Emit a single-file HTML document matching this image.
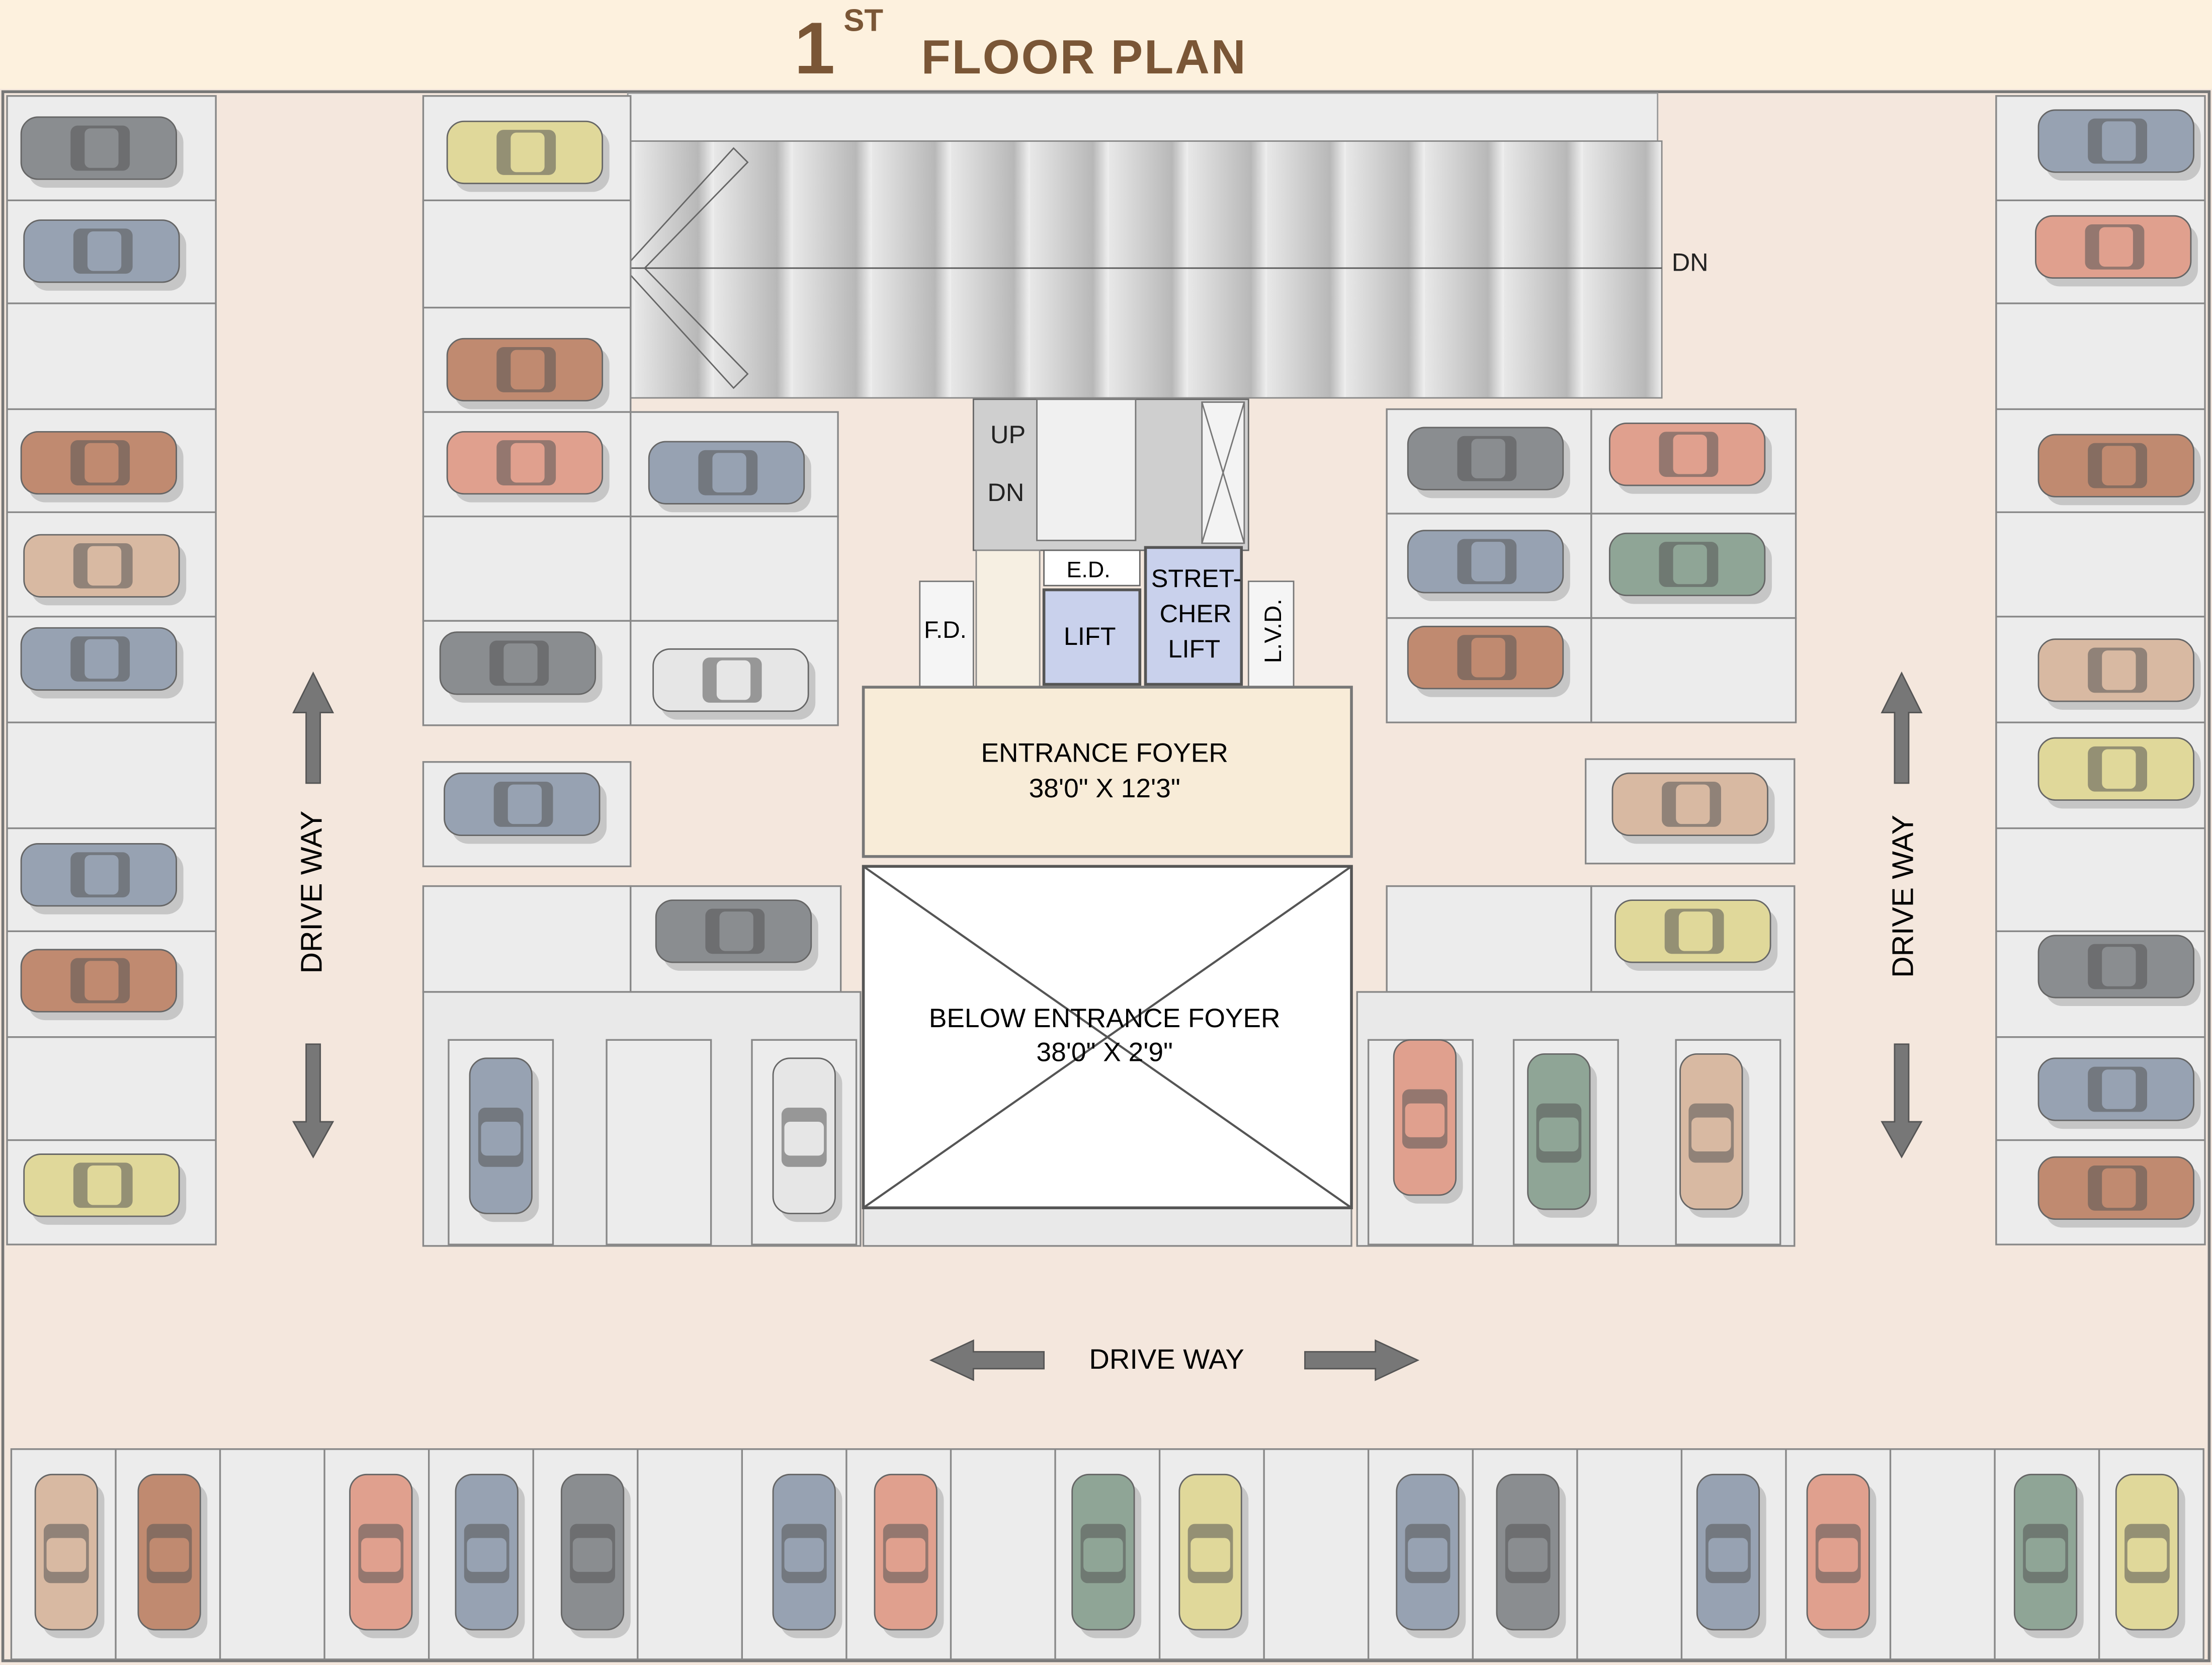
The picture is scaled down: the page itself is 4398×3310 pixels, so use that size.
<!DOCTYPE html>
<html><head><meta charset="utf-8">
<style>
html,body{margin:0;padding:0;background:#fff;}
svg{display:block;}
text{font-family:"Liberation Sans",sans-serif;}
</style></head>
<body>
<svg id="s" width="4398" height="3310" viewBox="0 0 1568 1180" preserveAspectRatio="none" xmlns="http://www.w3.org/2000/svg">
<defs>
<linearGradient id="st" x1="0" y1="0" x2="1" y2="0">
<stop offset="0" stop-color="#e8e8e8"/><stop offset="0.8" stop-color="#b8b8b8"/><stop offset="1" stop-color="#f0f0f0"/>
</linearGradient>
<pattern id="stp" width="56" height="10" patternUnits="userSpaceOnUse" x="450">
<rect width="56" height="10" fill="url(#st)"/>
</pattern>
</defs>
<rect x="0" y="0" width="1568" height="1180" fill="#f4e7dd"/>
<rect x="0" y="0" width="1568" height="63" fill="#fdf1de"/>
<text x="563" y="52" font-size="52" fill="#7a5636" font-weight="bold">1</text>
<text x="598" y="22" font-size="22" fill="#7a5636" font-weight="bold">ST</text>
<text x="653" y="52" font-size="34" fill="#7a5636" font-weight="bold" letter-spacing="1">FLOOR PLAN</text>
<rect x="2" y="65" width="1564" height="1112" fill="none" stroke="#777" stroke-width="2"/>

<!-- staircase -->
<rect x="445" y="66" width="730" height="34" fill="#ececec" stroke="#999"/>
<rect x="447" y="100" width="731" height="182" fill="url(#stp)" stroke="#888"/>
<line x1="447" y1="190" x2="1178" y2="190" stroke="#555"/>
<text x="1185" y="192" font-size="18" fill="#222">DN</text>
<path d="M447 185 L520 105 L530 115 L457 190 M447 195 L520 275 L530 265 L457 190" fill="none" stroke="#666"/>

<g id="cells" fill="#ececec" stroke="#888" stroke-width="1.2"></g>

<!-- core -->
<rect x="690" y="283" width="195" height="107" fill="#cfcfcf" stroke="#666"/>
<rect x="735" y="283" width="70" height="100" fill="#f0f0f0" stroke="#777"/>
<rect x="852" y="285" width="30" height="100" fill="#f3f3f3" stroke="#777"/>
<path d="M852 285 L882 385 M882 285 L852 385" stroke="#777"/>
<text x="702" y="314" font-size="18" fill="#222">UP</text>
<text x="700" y="355" font-size="18" fill="#222">DN</text>
<rect x="692" y="390" width="45" height="97" fill="#f6efe2" stroke="#888"/>
<rect x="740" y="390" width="68" height="25" fill="#fff" stroke="#666"/>
<text x="756" y="409" font-size="16">E.D.</text>
<rect x="740" y="418" width="68" height="67" fill="#c9d1ec" stroke="#555" stroke-width="2"/>
<text x="754" y="457" font-size="18">LIFT</text>
<rect x="812" y="388" width="68" height="97" fill="#c9d1ec" stroke="#555" stroke-width="2"/>
<text x="816" y="416" font-size="18">STRET-</text>
<text x="822" y="441" font-size="18">CHER</text>
<text x="828" y="466" font-size="18">LIFT</text>
<rect x="652" y="412" width="38" height="75" fill="#f5f5f5" stroke="#777"/>
<text x="655" y="452" font-size="17">F.D.</text>
<rect x="885" y="412" width="32" height="75" fill="#f5f5f5" stroke="#777"/>
<text x="908" y="470" font-size="17" transform="rotate(-90 908 470)">L.V.D.</text>

<rect x="612" y="487" width="346" height="120" fill="#f8ecd8" stroke="#777" stroke-width="2"/>
<text x="783" y="540" font-size="19" text-anchor="middle">ENTRANCE FOYER</text>
<text x="783" y="565" font-size="19" text-anchor="middle">38'0" X 12'3"</text>
<rect x="612" y="614" width="346" height="242" fill="#fff" stroke="#555" stroke-width="2"/>
<path d="M612 614 L958 856 M958 614 L612 856" stroke="#555" stroke-width="1.5"/>
<text x="783" y="728" font-size="19" text-anchor="middle">BELOW ENTRANCE FOYER</text>
<text x="783" y="752" font-size="19" text-anchor="middle">38'0" X 2'9"</text>

<!-- drive labels & arrows -->
<text x="228" y="690" font-size="21" transform="rotate(-90 228 690)">DRIVE WAY</text>
<text x="1356" y="693" font-size="21" transform="rotate(-90 1356 693)">DRIVE WAY</text>
<text x="772" y="970" font-size="20">DRIVE WAY</text>
<g fill="#777" stroke="#555">
<path d="M217 555 V505 H208 L222 477 L236 505 H227 V555Z"/>
<path d="M217 740 V795 H208 L222 820 L236 795 H227 V740Z"/>
<path d="M1343 555 V505 H1334 L1348 477 L1362 505 H1353 V555Z"/>
<path d="M1343 740 V795 H1334 L1348 820 L1362 795 H1353 V740Z"/>
<path d="M740 958 H690 V950 L660 964 L690 978 V970 H740Z"/>
<path d="M925 958 H975 V950 L1005 964 L975 978 V970 H925Z"/>
</g>
<g id="cars"></g>
</svg>
<script>
var NS="http://www.w3.org/2000/svg";
function el(p,t,a){var e=document.createElementNS(NS,t);for(var k in a)e.setAttribute(k,a[k]);p.appendChild(e);return e;}
var C=document.getElementById("cells");
function r(x,y,w,h,f){el(C,"rect",{x:x,y:y,width:w,height:h,fill:f||"#ececec"});}
// left column
r(5,68,148,814);
[142,215,290,363,437,512,587,660,735,808].forEach(function(y){el(C,"line",{x1:5,y1:y,x2:153,y2:y});});
// right column
r(1415,68,148,814);
[142,215,290,363,437,512,587,660,735,808].forEach(function(y){el(C,"line",{x1:1415,y1:y,x2:1563,y2:y});});
// inner left
r(300,68,147,224);r(300,142,147,76);
[[300,292],[300,366],[300,440],[447,292],[447,366],[447,440]].forEach(function(a){r(a[0],a[1],147,74);});
r(300,540,147,74);r(300,628,147,75);r(447,628,149,75);
r(300,703,310,180,"#e9e9e9");
[[318,737],[430,737],[533,737]].forEach(function(a){r(a[0],a[1],74,145);});
// right block
[[983,290],[1128,290],[983,364],[1128,364],[983,438],[1128,438]].forEach(function(a){r(a[0],a[1],145,74);});
r(1124,538,148,74);r(983,628,145,75);r(1128,628,144,75);
r(962,703,310,180,"#e9e9e9");
[[970,737],[1073,737],[1188,737]].forEach(function(a){r(a[0],a[1],74,145);});
r(612,855,346,28,"#e9e9e9");
// bottom row
r(8,1027,1554,149);
for(var i=1;i<21;i++){var x=8+i*74;el(C,"line",{x1:x,y1:1027,x2:x,y2:1176});}
var G=document.getElementById("cars");
var col={g:"#8a8d90",b:"#97a2b2",br:"#c08a70",be:"#d8b9a2",y:"#e0d89a",s:"#e0a08e",w:"#e6e6e6",gr:"#8fa596"};
function car(cx,cy,c,v){var w=110,h=44;if(v){w=44;h=110;}
el(G,"rect",{x:cx-w/2+5,y:cy-h/2+6,width:w,height:h,rx:12,fill:"#9a9a9a",opacity:0.45});
el(G,"rect",{x:cx-w/2,y:cy-h/2,width:w,height:h,rx:12,fill:col[c],stroke:"#666"});
if(v){el(G,"rect",{x:cx-16,y:cy-20,width:32,height:42,rx:5,fill:"#555",opacity:0.55});
el(G,"rect",{x:cx-14,y:cy-10,width:28,height:24,rx:4,fill:col[c]});}
else{el(G,"rect",{x:cx-20,y:cy-16,width:42,height:32,rx:5,fill:"#555",opacity:0.55});
el(G,"rect",{x:cx-10,y:cy-14,width:24,height:28,rx:4,fill:col[c]});}}
[[70,105,"g"],[72,178,"b"],[70,328,"br"],[72,401,"be"],[70,467,"b"],[70,620,"b"],[70,695,"br"],[72,840,"y"]].forEach(function(a){car(a[0],a[1],a[2]);});
[[372,108,"y"],[372,262,"br"],[372,328,"s"],[367,470,"g"],[370,570,"b"],[515,335,"b"],[518,482,"w"],[520,660,"g"]].forEach(function(a){car(a[0],a[1],a[2]);});
[[1053,325,"g"],[1196,322,"s"],[1053,398,"b"],[1196,400,"gr"],[1053,466,"br"],[1198,570,"be"],[1200,660,"y"]].forEach(function(a){car(a[0],a[1],a[2]);});
[[1500,100,"b"],[1498,175,"s"],[1500,330,"br"],[1500,475,"be"],[1500,545,"y"],[1500,685,"g"],[1500,772,"b"],[1500,842,"br"]].forEach(function(a){car(a[0],a[1],a[2]);});
[[355,805,"b"],[570,805,"w"],[1010,792,"s"],[1105,802,"gr"],[1213,802,"be"]].forEach(function(a){car(a[0],a[1],a[2],1);});
[[47,"be"],[120,"br"],[270,"s"],[345,"b"],[420,"g"],[570,"b"],[642,"s"],[782,"gr"],[858,"y"],[1012,"b"],[1083,"g"],[1225,"b"],[1303,"s"],[1450,"gr"],[1522,"y"]].forEach(function(a){car(a[0],1100,a[1],1);});
</script>
</body></html>
